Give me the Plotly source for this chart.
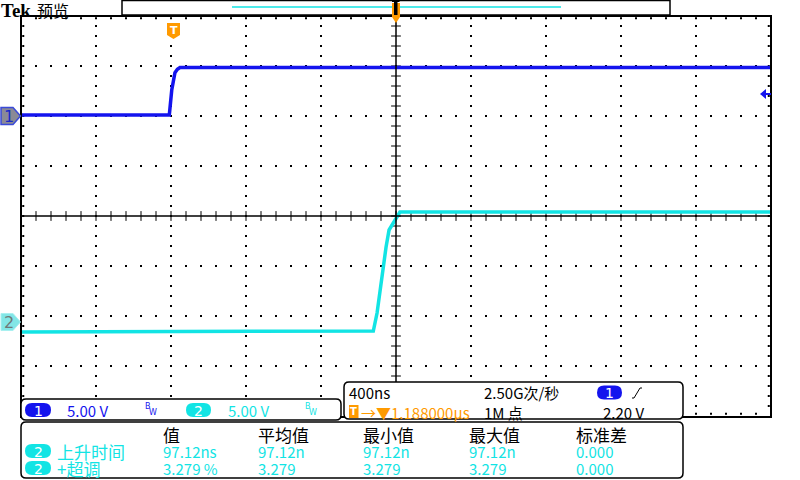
import plotly.graph_objects as go

# ---------------- data ----------------
ch1_time_ns = [-812, -21, -8, 0, 9, 22, 36, 3188]
ch1_volts = [0.1, 0.1, 2.6, 3.6, 4.33, 4.67, 4.85, 4.85]
ch2_time_ns = [-812, 1067, 1087, 1103, 1119, 1135, 1151, 1172, 1193, 1209, 3188]
ch2_volts = [-1.0, -0.9, 0.9, 3.2, 5.5, 7.5, 9.2, 9.9, 10.5, 11.0, 11.0]

ch1_volts_per_div = 5.0
ch2_volts_per_div = 5.0
ch1_position_div = 2.0
ch2_position_div = -2.12
time_per_div_ns = 400
trigger_delay_ns = 1188
trigger_level_v = 2.20

meas_headers = ["值", "平均值", "最小值", "最大值", "标准差"]
meas_names = ["上升时间", "+超调"]
meas_row1 = ["97.12ns", "97.12n", "97.12n", "97.12n", "0.000"]
meas_row2 = ["3.279 %", "3.279", "3.279", "3.279", "0.000"]

# ---------------- styling ----------------
W, H = 800, 480
FONT = "Noto Sans CJK SC"
BLUE = "#1414EE"
CYAN = "#12E4E4"
ORANGE = "#FF9A00"
BLACK = "#000000"

PL, PR, PT, PB = 21, 771, 16, 416


def px(x):
    return x / W


def py(y):
    return 1 - y / H


def poly(pts):
    s = "M " + " L ".join(f"{px(x):.5f},{py(y):.5f}" for x, y in pts) + " Z"
    return s


def rrect(x0, y0, x1, y1, r):
    rx, ry = r, r
    P = lambda x, y: f"{px(x):.5f},{py(y):.5f}"
    return (f"M {P(x0+rx,y0)} L {P(x1-rx,y0)} Q {P(x1,y0)} {P(x1,y0+ry)} "
            f"L {P(x1,y1-ry)} Q {P(x1,y1)} {P(x1-rx,y1)} L {P(x0+rx,y1)} "
            f"Q {P(x0,y1)} {P(x0,y1-ry)} L {P(x0,y0+ry)} Q {P(x0,y0)} {P(x0+rx,y0)} Z")


x_left = trigger_delay_ns - 5 * time_per_div_ns
x_right = trigger_delay_ns + 5 * time_per_div_ns
x_center = trigger_delay_ns


def xdiv(d):
    return x_left + d * time_per_div_ns


fig = go.Figure()

# ---- graticule dots ----
gx, gy = [], []
for j in [-3, -2, -1, 1, 2, 3]:
    for k in range(1, 50):
        gx.append(xdiv(k * 0.2)); gy.append(j)
for i in [1, 2, 3, 4, 6, 7, 8, 9]:
    for k in range(1, 40):
        gx.append(xdiv(i)); gy.append(-4 + k * 0.2)
for k in range(1, 50):
    gx += [xdiv(k * 0.2), xdiv(k * 0.2)]; gy += [4 - 0.045, -4 + 0.045]
for k in range(1, 40):
    gx += [xdiv(0.03), xdiv(10 - 0.03)]; gy += [-4 + k * 0.2, -4 + k * 0.2]
fig.add_trace(go.Scatter(x=gx, y=gy, mode="markers", hoverinfo="skip",
                         marker=dict(symbol="square", size=2, color=BLACK, line=dict(width=0))))
# center cross ticks
fig.add_trace(go.Scatter(x=[x_center] * 39, y=[-4 + k * 0.2 for k in range(1, 40)], mode="markers",
                         hoverinfo="skip",
                         marker=dict(symbol="line-ew", size=7, line=dict(width=1, color=BLACK))))
fig.add_trace(go.Scatter(x=[xdiv(k * 0.2) for k in range(1, 50)], y=[0] * 49, mode="markers",
                         hoverinfo="skip",
                         marker=dict(symbol="line-ns", size=7, line=dict(width=1, color=BLACK))))

# ---- waveforms ----
fig.add_trace(go.Scatter(x=ch2_time_ns, y=[v / ch2_volts_per_div + ch2_position_div for v in ch2_volts],
                         mode="lines", line=dict(color=CYAN, width=3.5), name="CH2"))
fig.add_trace(go.Scatter(x=ch1_time_ns, y=[v / ch1_volts_per_div + ch1_position_div for v in ch1_volts],
                         mode="lines", line=dict(color=BLUE, width=3.5), name="CH1"))

shapes = []
ann = []


def txt(x, y, s, color=BLACK, size=14, family=FONT, xanchor="left"):
    ann.append(dict(x=px(x), y=py(y), xref="paper", yref="paper", text=s, showarrow=False,
                    xanchor=xanchor, yanchor="middle", font=dict(family=family, size=size, color=color)))


# center lines
shapes.append(dict(type="line", xref="x", yref="y", x0=x_center, x1=x_center, y0=-4, y1=4,
                   line=dict(color=BLACK, width=1.5)))
shapes.append(dict(type="line", xref="x", yref="y", x0=x_left, x1=x_right, y0=0, y1=0,
                   line=dict(color=BLACK, width=1.5)))
# frame
shapes.append(dict(type="rect", xref="paper", yref="paper", x0=px(PL), x1=px(PR), y0=py(PB + 1), y1=py(PT),
                   line=dict(color=BLACK, width=2)))

# top bar
shapes.append(dict(type="rect", xref="paper", yref="paper", x0=px(122), x1=px(670), y0=py(15), y1=py(0.5),
                   line=dict(color=BLACK, width=1.5), fillcolor="white"))
shapes.append(dict(type="line", xref="paper", yref="paper", x0=px(232), x1=px(561), y0=py(7), y1=py(7),
                   line=dict(color=CYAN, width=1.5)))
# top trigger position marker
shapes.append(dict(type="path", xref="paper", yref="paper",
                   path=poly([(392, 3), (400, 3), (400, 17), (396, 23), (392, 17)]),
                   fillcolor=ORANGE, line=dict(width=0)))
shapes.append(dict(type="rect", xref="paper", yref="paper", x0=px(394), x1=px(397.5), y0=py(15), y1=py(0),
                   fillcolor=BLACK, line=dict(width=0)))
shapes.append(dict(type="rect", xref="paper", yref="paper", x0=px(392), x1=px(399.5), y0=py(2), y1=py(0),
                   fillcolor=BLACK, line=dict(width=0)))

# trigger "T" marker in graticule
shapes.append(dict(type="path", xref="paper", yref="paper",
                   path=poly([(167, 23), (180, 23), (180, 35), (173.5, 39), (167, 35)]),
                   fillcolor=ORANGE, line=dict(width=0)))
txt(173.5, 30.5, "<b>T</b>", "white", 11, "DejaVu Sans", "center")

# channel ground markers
shapes.append(dict(type="path", xref="paper", yref="paper",
                   path=poly([(1, 107.5), (13, 107.5), (20.5, 116), (13, 124.5), (1, 124.5)]),
                   fillcolor="#8A8A96", line=dict(color="#3A4AD8", width=1.5)))
txt(9, 116, "1", "#1A2AC8", 16, "DejaVu Sans", "center")
shapes.append(dict(type="path", xref="paper", yref="paper",
                   path=poly([(1, 313.5), (13, 313.5), (20.5, 322), (13, 330.5), (1, 330.5)]),
                   fillcolor="#82E6E6", line=dict(color="#A8F0F0", width=1)))
txt(9, 322, "2", "#707878", 16, "DejaVu Sans", "center")

# trigger level arrow (right)
shapes.append(dict(type="path", xref="paper", yref="paper",
                   path=poly([(760, 94), (766, 89), (766, 99)]), fillcolor=BLUE, line=dict(width=0)))
shapes.append(dict(type="line", xref="paper", yref="paper", x0=px(765), x1=px(771), y0=py(94), y1=py(94),
                   line=dict(color=BLUE, width=2)))

# ---- bottom panels ----
for (x0, y0, x1, y1) in [(21, 399, 341, 420), (344, 382, 683, 419), (21, 422, 683, 478)]:
    shapes.append(dict(type="path", xref="paper", yref="paper", path=rrect(x0, y0, x1, y1, 5),
                       fillcolor="white", line=dict(color=BLACK, width=1.5)))


def pill(x0, y0, x1, y1, color, label, tcolor="white"):
    shapes.append(dict(type="path", xref="paper", yref="paper", path=rrect(x0, y0, x1, y1, (y1 - y0) / 2),
                       fillcolor=color, line=dict(width=0)))
    txt((x0 + x1) / 2, (y0 + y1) / 2 + 0.5, label, tcolor, 14, "DejaVu Sans", "center")


NUM = 15
# panel A: vertical settings
pill(25, 403, 51, 417, BLUE, "1")
txt(65, 410, f"{ch1_volts_per_div:.2f} V", BLUE, NUM)
txt(143, 406, "B", BLUE, 8, "DejaVu Sans")
txt(147, 412, "W", BLUE, 8, "DejaVu Sans")
pill(186, 403, 211, 417, CYAN, "2")
txt(226, 410, f"{ch2_volts_per_div:.2f} V", CYAN, NUM)
txt(303, 406, "B", CYAN, 8, "DejaVu Sans")
txt(307, 412, "W", CYAN, 8, "DejaVu Sans")

# panel B: horizontal / trigger
txt(347, 392, f"{time_per_div_ns}ns", BLACK, NUM)
txt(482, 392, "2.50G次/秒", BLACK, NUM)
pill(597, 385.5, 622, 399.5, BLUE, "1")
shapes.append(dict(type="path", xref="paper", yref="paper",
                   path=f"M {px(632)},{py(398)} L {px(634)},{py(398)} L {px(640)},{py(388)} L {px(642)},{py(388)}",
                   line=dict(color=BLACK, width=1)))
shapes.append(dict(type="rect", xref="paper", yref="paper", x0=px(349), x1=px(358.5), y0=py(418), y1=py(405),
                   fillcolor=ORANGE, line=dict(width=0)))
txt(353.7, 411.5, "<b>T</b>", "white", 10, "DejaVu Sans", "center")
txt(359, 412, "→▼" + f"{trigger_delay_ns / 1000:.6f}µs", ORANGE, NUM)
txt(482, 412, "1M 点", BLACK, NUM)
txt(601, 412, f"{trigger_level_v:.2f} V", BLACK, NUM)

# panel C: measurements
col_x = [161, 256, 361, 467, 574]
for cx, h in zip(col_x, meas_headers):
    txt(cx, 434, h, BLACK, 17)
for ry, name, row in [(451, meas_names[0], meas_row1), (468, meas_names[1], meas_row2)]:
    pill(25, ry - 7, 51, ry + 7, CYAN, "2")
    txt(55, ry, name, CYAN, 17)
    for cx, v in zip(col_x, row):
        txt(cx, ry, v, CYAN, NUM)

# header
txt(-1, 10, "<b>Tek</b>", BLACK, 19, "Liberation Serif")
txt(35, 10, "预览", BLACK, 16)

fig.update_layout(
    width=W, height=H, margin=dict(l=0, r=0, t=0, b=0),
    paper_bgcolor="white", plot_bgcolor="white", showlegend=False,
    xaxis=dict(domain=[px(PL), px(PR)], range=[x_left, x_right], visible=False, fixedrange=True),
    yaxis=dict(domain=[py(PB), py(PT)], range=[-4, 4], visible=False, fixedrange=True),
    shapes=shapes, annotations=ann,
)

fig.write_html("out.html", config={"displayModeBar": False},
               post_script="document.body.style.margin='0';document.body.style.overflow='hidden';")
